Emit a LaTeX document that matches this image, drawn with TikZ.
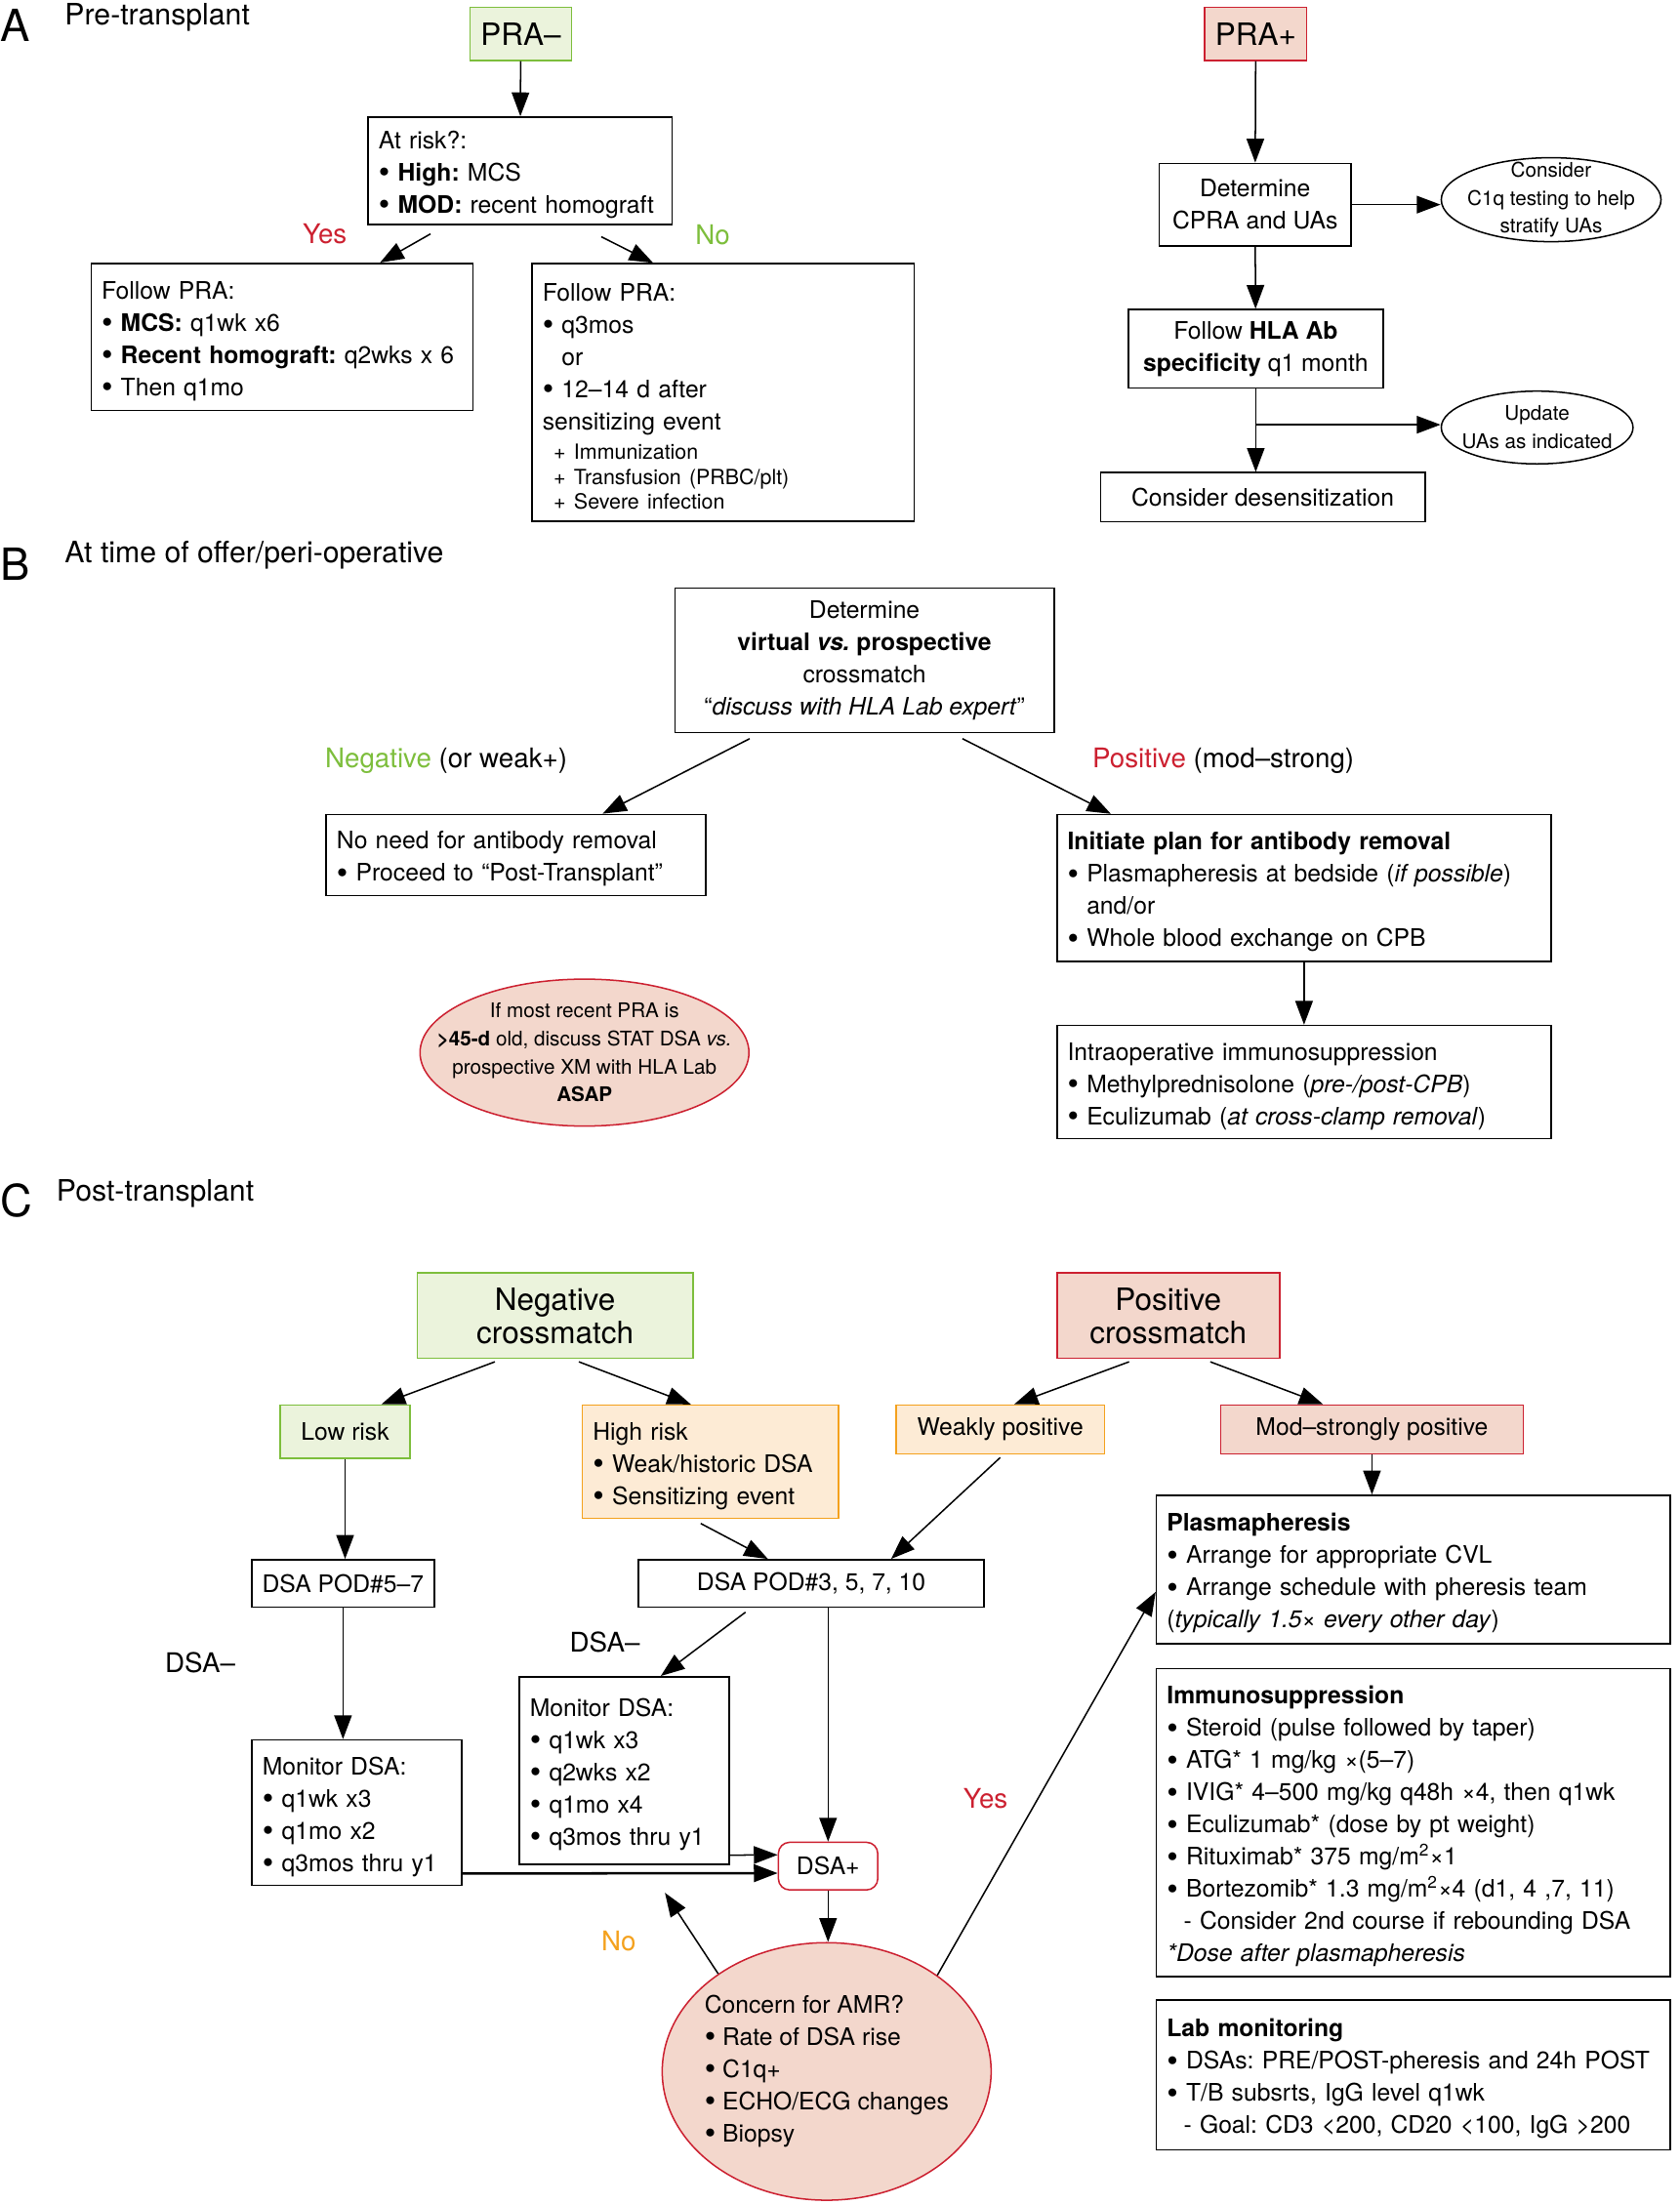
\documentclass[tikz,border=0pt]{standalone}
\usepackage{fontspec}
\setmainfont{TeX Gyre Heros}
\usetikzlibrary{arrows.meta,shapes.geometric,calc}

\definecolor{grnfill}{HTML}{EBF3DC}
\definecolor{grnline}{HTML}{7DBE3C}
\definecolor{redfill}{HTML}{F3D7CC}
\definecolor{redline}{HTML}{CC2030}
\definecolor{orgfill}{HTML}{FDEBD5}
\definecolor{orgline}{HTML}{F4A11D}
\newcommand{\smtxt}{\fontsize{8.5}{10}\selectfont}
\newcommand{\bul}{{\fontsize{13}{0}\selectfont\raisebox{-0.9pt}{•}}\ }
\frenchspacing

\begin{document}
\begin{tikzpicture}[x=0.02cm, y=-0.0201cm, >={Triangle[length=0.34cm,width=0.25cm]},
	box/.style = {draw, line width=0.6pt, inner xsep=0.15cm, inner ysep=0.06cm, font=\fontsize{9.8}{13.1}\selectfont\frenchspacing},
	lbox/.style 2 args = {box, align=left, text width=#1, minimum height=#2, execute at begin node=\rule{0pt}{10.5pt}},
	cbox/.style 2 args = {box, align=center, minimum width=#1, minimum height=#2},
	big/.style = {font=\fontsize{12.5}{13.5}\selectfont},
	pgrn/.style = {fill=grnfill, draw=grnline},
	pred/.style = {fill=redfill, draw=redline},
	porg/.style = {fill=orgfill, draw=orgline},
	oval/.style = {draw, ellipse, line width=0.6pt, inner sep=-0.5cm, align=center, font=\fontsize{8.2}{11.4}\selectfont},
	lbl/.style = {font=\fontsize{11}{13}\selectfont},
	head/.style = {anchor=west, inner xsep=0pt, font=\fontsize{12}{14}\selectfont},
	part/.style = {font=\fontsize{18}{20}\selectfont},
	conn/.style = {->, line width=0.6pt}]
	\useasboundingbox (0,0) rectangle (1200,1568);
	
	\node[part] (pa) at (11,18) {A};
	\node[head] (ha) at (46,12) {Pre-transplant};
	\node[cbox={1.36cm}{0.76cm}, pgrn, big] (pram) at (372,24) {PRA–};
	\node[lbox={4.04cm}{1.54cm}] (risk) at (371.5,121.5) {At risk?:\\\bul\textbf{High:} MCS\\\bul\textbf{MOD:} recent homograft};
	\node[lbl, text=redline] (yes1) at (232,166) {Yes};
	\node[lbl, text=grnline] (no1) at (509,167) {No};
	\node[lbox={5.16cm}{2.1cm}] (fy) at (201.5,239.5) {Follow PRA:\\\bul\textbf{MCS:} q1wk x6\\\bul\textbf{Recent homograft:} q2wks x 6\\\bul Then q1mo};
	\node[lbox={5.16cm}{3.68cm}] (fn) at (516.5,279) {Follow PRA:\\\bul q3mos\\\hphantom{\bul}or\\\bul 12–14 d after\\sensitizing event\\[-1.2pt]{\smtxt\hspace*{0.16cm}+ Immunization}\\[-3pt]{\smtxt\hspace*{0.16cm}+ Transfusion (PRBC/plt)}\\[-3pt]{\smtxt\hspace*{0.16cm}+ Severe infection}};
	
	\node[cbox={1.4cm}{0.76cm}, pred, big] (prap) at (897,24) {PRA+};
	\node[cbox={2.74cm}{1.18cm}] (cpra) at (896.5,145.5) {Determine\\CPRA and UAs};
	\node[oval, minimum width=3.14cm, minimum height=1.2cm] (c1q) at (1108,142) {Consider\\C1q testing to help\\stratify UAs};
	\node[cbox={3.64cm}{1.12cm}] (hla) at (897,248) {Follow \textbf{HLA Ab}\\\textbf{specificity} q1 month};
	\node[oval, minimum width=2.74cm, minimum height=1.04cm] (upd) at (1098,304) {Update\\UAs as indicated};
	\node[cbox={4.64cm}{0.7cm}] (desn) at (902,353.5) {Consider desensitization};
	\coordinate (brk) at (897,302);
	
	\draw[conn] (pram) -- (risk);
	\draw[conn] ($(risk.south)+(-64,6)$) -- ($(fy.north)+(70,0)$);
	\draw[conn] ($(risk.south)+(58,8)$) -- ($(fn.north)+(-50,0)$);
	\draw[conn] (prap) -- (cpra);
	\draw[conn] (cpra.east) -- (cpra.east -| c1q.west);
	\draw[conn] (cpra) -- (hla);
	\draw[conn] (hla.south) -- (hla.south |- desn.north);
	\draw[conn] (brk) -- (brk -| upd.west);
	
	\node[part] (pb) at (11,401) {B};
	\node[head] (hb) at (46,395) {At time of offer/peri-operative};
	\node[cbox={5.42cm}{2.06cm}] (det) at (617.5,469.5) {Determine\\\textbf{virtual \textit{vs.} prospective}\\crossmatch\\“\textit{discuss with HLA Lab expert}”};
	\node[lbl, anchor=west, inner xsep=0pt] (negl) at (232,541) {\textcolor{grnline}{Negative} (or weak+)};
	\node[lbl, anchor=west, inner xsep=0pt] (posl) at (780,541) {\textcolor{redline}{Positive} (mod–strong)};
	\node[lbox={5.12cm}{1.16cm}] (nneed) at (368.5,608) {No need for antibody removal\\\bul Proceed to “Post-Transplant”};
	\node[lbox={6.76cm}{2.1cm}] (init) at (931.5,631.5) {\textbf{Initiate plan for antibody removal}\\\bul Plasmapheresis at bedside (\textit{if possible})\\\hphantom{\bul}and/or\\\bul Whole blood exchange on CPB};
	\node[lbox={6.76cm}{1.62cm}] (intra) at (931.5,769.5) {Intraoperative immunosuppression\\\bul Methylprednisolone (\textit{pre-/post-CPB})\\\bul Eculizumab (\textit{at cross-clamp removal})};
	\node[oval, pred, minimum width=4.7cm, minimum height=2.1cm] (old) at (417.5,748.5) {If most recent PRA is\\\textbf{>45-d} old, discuss STAT DSA \textit{vs.}\\prospective XM with HLA Lab\\\textbf{ASAP}};
	
	\draw[conn] ($(det.south)+(-82,4)$) -- ($(nneed.north)+(62,0)$);
	\draw[conn] ($(det.south)+(70,4)$) -- ($(init.north)+(-138,0)$);
	\draw[conn] (init) -- (intra);
	
	\node[part] (pc) at (12,854) {C};
	\node[head] (hc) at (40,849) {Post-transplant};
	\node[cbox={3.94cm}{1.22cm}, pgrn, big] (negx) at (396.5,935.5) {Negative\\crossmatch};
	\node[cbox={3.18cm}{1.22cm}, pred, big] (posx) at (834.5,935.5) {Positive\\crossmatch};
	\node[cbox={1.86cm}{0.76cm}, pgrn] (low) at (246.5,1018) {Low risk};
	\node[lbox={3.36cm}{1.62cm}, porg] (high) at (507.5,1039.5) {High risk\\\bul Weak/historic DSA\\\bul Sensitizing event};
	\node[cbox={2.98cm}{0.7cm}, porg] (weak) at (714.5,1016.5) {Weakly positive};
	\node[cbox={4.32cm}{0.7cm}, pred] (mods) at (980,1016.5) {Mod–strongly positive};
	\node[cbox={2.6cm}{0.68cm}] (pod5) at (245,1126) {DSA POD\#5–7};
	\node[cbox={4.94cm}{0.68cm}] (pod3) at (579.5,1126) {DSA POD\#3, 5, 7, 10};
	\node[lbl] (neg5) at (143,1182) {DSA–};
	\node[lbl] (neg3) at (432,1168) {DSA–};
	\node[lbox={2.7cm}{2.08cm}] (mon1) at (255,1289) {Monitor DSA:\\\bul q1wk x3\\\bul q1mo x2\\\bul q3mos thru y1};
	\node[lbox={2.7cm}{2.68cm}] (mon2) at (446,1259) {Monitor DSA:\\\bul q1wk x3\\\bul q2wks x2\\\bul q1mo x4\\\bul q3mos thru y1};
	\node[cbox={1.42cm}{0.68cm}, draw=redline, rounded corners=0.16cm] (dsap) at (591.5,1327) {DSA+};
	\node[oval, pred, align=left, minimum width=4.7cm, minimum height=3.68cm, font=\fontsize{9.8}{13.1}\selectfont] (amr) at (590.5,1473) {Concern for AMR?\\\bul Rate of DSA rise\\\bul C1q+\\\bul ECHO/ECG changes\\\bul Biopsy};
	\coordinate (back) at (475,1346);
	\node[lbl, text=orgline] (no2) at (442,1380) {No};
	\node[lbl, text=redline] (yes2) at (704,1279) {Yes};
	\node[lbox={7.04cm}{2.12cm}] (plas) at (1009.5,1116) {\textbf{Plasmapheresis}\\\bul Arrange for appropriate CVL\\\bul Arrange schedule with pheresis team\\(\textit{typically 1.5× every other day})};
	\node[lbox={7.04cm}{4.4cm}] (immu) at (1009.5,1296) {\textbf{Immunosuppression}\\\bul Steroid (pulse followed by taper)\\\bul ATG* 1 mg/kg ×(5–7)\\\bul IVIG* 4–500 mg/kg q48h ×4, then q1wk\\\bul Eculizumab* (dose by pt weight)\\\bul Rituximab* 375 mg/m\textsuperscript{2}×1\\\bul Bortezomib* 1.3 mg/m\textsuperscript{2}×4 (d1, 4 ,7, 11)\\\hspace*{0.24cm}- Consider 2nd course if rebounding DSA\\\textit{*Dose after plasmapheresis}};
	\node[lbox={7.04cm}{2.14cm}] (lab) at (1009.5,1475.5) {\textbf{Lab monitoring}\\\bul DSAs: PRE/POST-pheresis and 24h POST\\\bul T/B subsrts, IgG level q1wk\\\hspace*{0.24cm}- Goal: CD3 <200, CD20 <100, IgG >200};
	
	\draw[conn] ($(negx.south)+(-43,2)$) -- ($(low.north)+(26,0)$);
	\draw[conn] ($(negx.south)+(17,2)$) -- ($(high.north)+(-14,0)$);
	\draw[conn] ($(posx.south)+(-28,2)$) -- ($(weak.north)+(10,0)$);
	\draw[conn] ($(posx.south)+(30,2)$) -- ($(mods.north)+(-35,0)$);
	\draw[conn] (low.south) -- (low.south |- pod5.north);
	\draw[conn] ($(high.south)+(-7,3)$) -- ($(pod3.north)+(-31,0)$);
	\draw[conn] ($(weak.south)+(0,2)$) -- ($(pod3.north)+(57,0)$);
	\draw[conn] (pod5.south) -- (pod5.south |- mon1.north);
	\draw[conn] ($(pod3.south)+(-47,3)$) -- ($(mon2.north)+(26,0)$);
	\draw[conn] (dsap.north |- pod3.south) -- (dsap.north);
	\draw[conn] ($(mon2.south east)+(0,-7)$) -- ($(dsap.west)+(0,-8)$);
	\draw[conn, line width=1pt] ($(mon1.south east)+(0,-9)$) -- ($(dsap.west)+(0,5)$);
	\draw[conn] (dsap.south) -- (dsap.south |- amr.north);
	\draw[conn] (amr.138) -- (back);
	\draw[conn] (amr.41) -- ($(plas.west)+(0,16)$);
	\draw[conn] (mods.south) -- (mods.south |- plas.north);
	
\end{tikzpicture}
\end{document}
